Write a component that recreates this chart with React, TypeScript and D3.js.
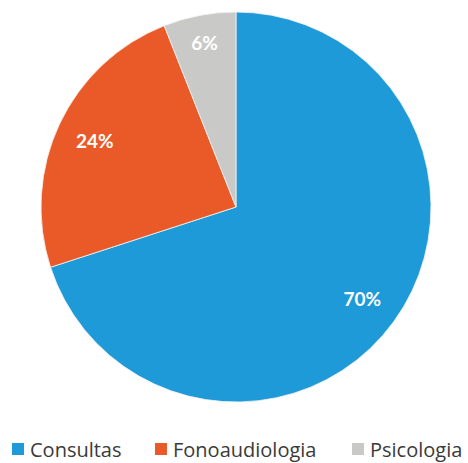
import React from "react";
import * as d3 from "d3";

const categories = ["Consultas", "Fonoaudiologia", "Psicologia"];
const values = [70, 24, 6];
const labels = ["70%", "24%", "6%"];
const colors = ["#1e9ad8", "#e95a28", "#c9c9c7"];

const W = 468;
const H = 463;

export default function App() {
  const cx = 236;
  const cy = 207;
  const r = 195;
  const pie = d3.pie<number>().sort(null).value((d) => d)(values);
  const arc = d3.arc<d3.PieArcDatum<number>>().innerRadius(0).outerRadius(r);
  const labelR = [0.8, 0.8, 0.86];
  const legendX = [12, 155, 352];
  return (
    <svg
      width={W}
      height={H}
      style={{ position: "absolute", left: 0, top: 0, background: "#fff" }}
      fontFamily="Lato, 'Open Sans', sans-serif"
    >
      <g transform={`translate(${cx},${cy})`}>
        {pie.map((p, i) => (
          <path key={i} d={arc(p) || ""} fill={colors[i]} stroke="#f4f4f4" strokeWidth={0.8} />
        ))}
        {pie.map((p, i) => {
          const a = (p.startAngle + p.endAngle) / 2;
          const rr = r * labelR[i];
          const x = Math.sin(a) * rr;
          const y = -Math.cos(a) * rr;
          return (
            <text
              key={i}
              x={x}
              y={y}
              fill="#fff"
              fontWeight="bold"
              fontSize={19}
              textAnchor="middle"
              dominantBaseline="central"
            >
              {labels[i]}
            </text>
          );
        })}
      </g>
      {categories.map((c, i) => (
        <g key={c} transform={`translate(${legendX[i]},449)`}>
          <rect x={0} y={-6} width={12} height={12} fill={colors[i]} />
          <text
            x={18}
            y={0}
            dominantBaseline="central"
            fontSize={20}
            fill="#3a3a3a"
            fontFamily="'Open Sans', sans-serif"
          >
            {c}
          </text>
        </g>
      ))}
    </svg>
  );
}
